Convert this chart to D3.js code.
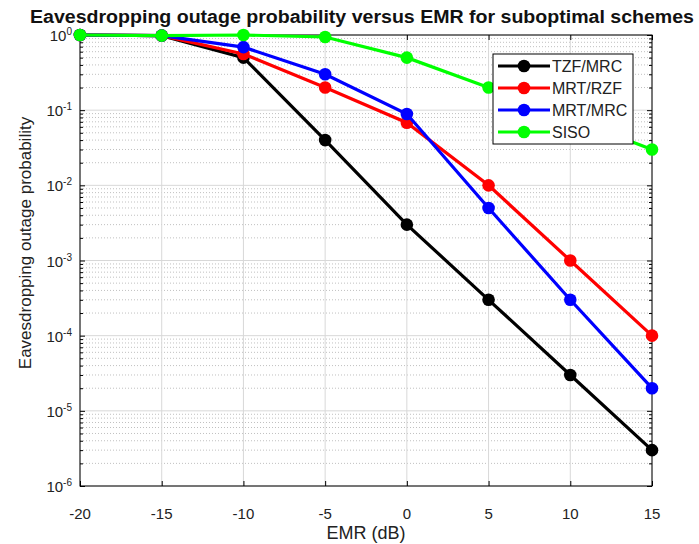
<!DOCTYPE html>
<html>
<head>
<meta charset="utf-8">
<script src="https://cdnjs.cloudflare.com/ajax/libs/d3/7.8.5/d3.min.js"></script>
<style>
  body { margin: 0; background: #fff; }
  text { font-family: "Liberation Sans", Arial, Helvetica, sans-serif; }
</style>
</head>
<body>
<div id="graph"></div>
<script>
// data
var emr = [-20, -15, -10, -5, 0, 5, 10, 15];
var tzfMrc = [1, 0.98, 0.5, 0.04, 0.003, 3e-4, 3e-5, 3e-6];
var mrtRzf = [1, 0.98, 0.56, 0.2, 0.068, 0.01, 1e-3, 1e-4];
var mrtMrc = [1, 0.98, 0.69, 0.3, 0.089, 5e-3, 3e-4, 2e-5];
var siso = [1, 0.98, 1, 0.94, 0.5, 0.2, 0.078, 0.03];
var seriesNames = ["TZF/MRC", "MRT/RZF", "MRT/MRC", "SISO"];
var seriesColors = ["#000000", "#ff0000", "#0000ff", "#00ff00"];
var xTicks = [-20, -15, -10, -5, 0, 5, 10, 15];
var yExponents = [0, -1, -2, -3, -4, -5, -6];

drawGraph(699, 544);

function drawGraph(w, h) {
  var left = 80, right = 652, top = 35, bottom = 486;

  var svg = d3.select("#graph").append("svg")
      .attr("width", w)
      .attr("height", h);

  var x = d3.scaleLinear().domain([-20, 15]).range([left, right]);
  var y = d3.scaleLog().domain([1e-6, 1]).range([bottom, top]);

  // minor values 2..9 x 10^k
  var minor = [];
  yExponents.forEach(function(e) {
    if (e == 0) return;
    for (var m = 2; m <= 9; m++) minor.push(m * Math.pow(10, e));
  });

  var grid = svg.append("g");
  grid.selectAll(".minor")
      .data(minor)
      .enter().append("line")
      .attr("x1", left).attr("x2", right)
      .attr("y1", function(d) { return y(d); })
      .attr("y2", function(d) { return y(d); })
      .attr("stroke", "#c0c0c0")
      .attr("stroke-width", 1)
      .attr("stroke-dasharray", "1,2");
  grid.selectAll(".majy")
      .data(yExponents)
      .enter().append("line")
      .attr("x1", left).attr("x2", right)
      .attr("y1", function(d) { return y(Math.pow(10, d)); })
      .attr("y2", function(d) { return y(Math.pow(10, d)); })
      .attr("stroke", "#d8d8d8");
  grid.selectAll(".majx")
      .data(xTicks)
      .enter().append("line")
      .attr("y1", top).attr("y2", bottom)
      .attr("x1", function(d) { return x(d); })
      .attr("x2", function(d) { return x(d); })
      .attr("stroke", "#d8d8d8");

  // axes with inward ticks on all four sides
  svg.append("g")
      .attr("transform", "translate(0," + bottom + ")")
      .call(d3.axisTop(x).tickValues(xTicks).tickSize(5).tickFormat(""))
      .call(function(g) { g.select(".domain").remove(); });
  svg.append("g")
      .attr("transform", "translate(0," + top + ")")
      .call(d3.axisBottom(x).tickValues(xTicks).tickSize(5).tickFormat(""))
      .call(function(g) { g.select(".domain").remove(); });
  [left, right].forEach(function(px) {
    var ax = px == left ? d3.axisRight(y) : d3.axisLeft(y);
    svg.append("g")
        .attr("transform", "translate(" + px + ",0)")
        .call(ax.tickValues(yExponents.map(function(e) { return Math.pow(10, e); })).tickSize(5).tickFormat(""))
        .call(function(g) { g.select(".domain").remove(); });
    var ax2 = px == left ? d3.axisRight(y) : d3.axisLeft(y);
    svg.append("g")
        .attr("transform", "translate(" + px + ",0)")
        .call(ax2.tickValues(minor).tickSize(3).tickFormat(""))
        .call(function(g) { g.select(".domain").remove(); });
  });
  svg.selectAll(".tick line").attr("stroke", "#000");

  svg.append("rect")
      .attr("x", left).attr("y", top)
      .attr("width", right - left).attr("height", bottom - top)
      .attr("fill", "none")
      .attr("stroke", "#000")
      .attr("stroke-width", 1);

  // tick labels
  svg.selectAll(".xlab")
      .data(xTicks)
      .enter().append("text")
      .attr("x", function(d) { return x(d); })
      .attr("y", bottom + 33)
      .attr("text-anchor", "middle")
      .attr("font-size", "15px")
      .attr("fill", "#222")
      .text(function(d) { return d; });

  var ylab = svg.selectAll(".ylab")
      .data(yExponents)
      .enter().append("text")
      .attr("x", 72)
      .attr("y", function(d) { return y(Math.pow(10, d)) + 6; })
      .attr("text-anchor", "end")
      .attr("font-size", "15px")
      .attr("fill", "#222");
  ylab.append("tspan").text("10");
  ylab.append("tspan")
      .attr("dy", -6)
      .attr("font-size", "10px")
      .text(function(d) { return d; });

  // series
  var allSeries = [tzfMrc, mrtRzf, mrtMrc, siso];
  var line = d3.line()
      .x(function(d, i) { return x(emr[i]); })
      .y(function(d) { return y(d); });

  allSeries.forEach(function(vals, k) {
    svg.append("path")
        .datum(vals)
        .attr("d", line)
        .attr("fill", "none")
        .attr("stroke", seriesColors[k])
        .attr("stroke-width", 3.2);
    svg.selectAll(".pt" + k)
        .data(vals)
        .enter().append("circle")
        .attr("cx", function(d, i) { return x(emr[i]); })
        .attr("cy", function(d) { return y(d); })
        .attr("r", 6.3)
        .attr("fill", seriesColors[k]);
  });

  // legend
  var lg = svg.append("g");
  lg.append("rect")
      .attr("x", 493).attr("y", 54)
      .attr("width", 140).attr("height", 90)
      .attr("fill", "#fff")
      .attr("stroke", "#000");
  seriesNames.forEach(function(name, k) {
    var ly = 66 + k * 22;
    lg.append("line")
        .attr("x1", 498).attr("x2", 550)
        .attr("y1", ly).attr("y2", ly)
        .attr("stroke", seriesColors[k])
        .attr("stroke-width", 3.2);
    lg.append("circle")
        .attr("cx", 524).attr("cy", ly)
        .attr("r", 6.3)
        .attr("fill", seriesColors[k]);
    lg.append("text")
        .attr("x", 552).attr("y", ly + 6)
        .attr("font-size", "16px")
        .attr("fill", "#222")
        .text(name);
  });

  // title and axis labels
  svg.append("text")
      .attr("x", 30).attr("y", 23)
      .attr("textLength", 664)
      .attr("lengthAdjust", "spacingAndGlyphs")
      .attr("font-size", "18px")
      .attr("font-weight", "bold")
      .attr("fill", "#111")
      .text("Eavesdropping outage probability versus EMR for suboptimal schemes");
  svg.append("text")
      .attr("x", 366).attr("y", 539)
      .attr("text-anchor", "middle")
      .attr("font-size", "18px")
      .attr("fill", "#222")
      .text("EMR (dB)");
  svg.append("text")
      .attr("transform", "translate(31," + 243 + ") rotate(-90)")
      .attr("text-anchor", "middle")
      .attr("font-size", "17px")
      .attr("fill", "#222")
      .text("Eavesdropping outage probability");
}
</script>
</body>
</html>
